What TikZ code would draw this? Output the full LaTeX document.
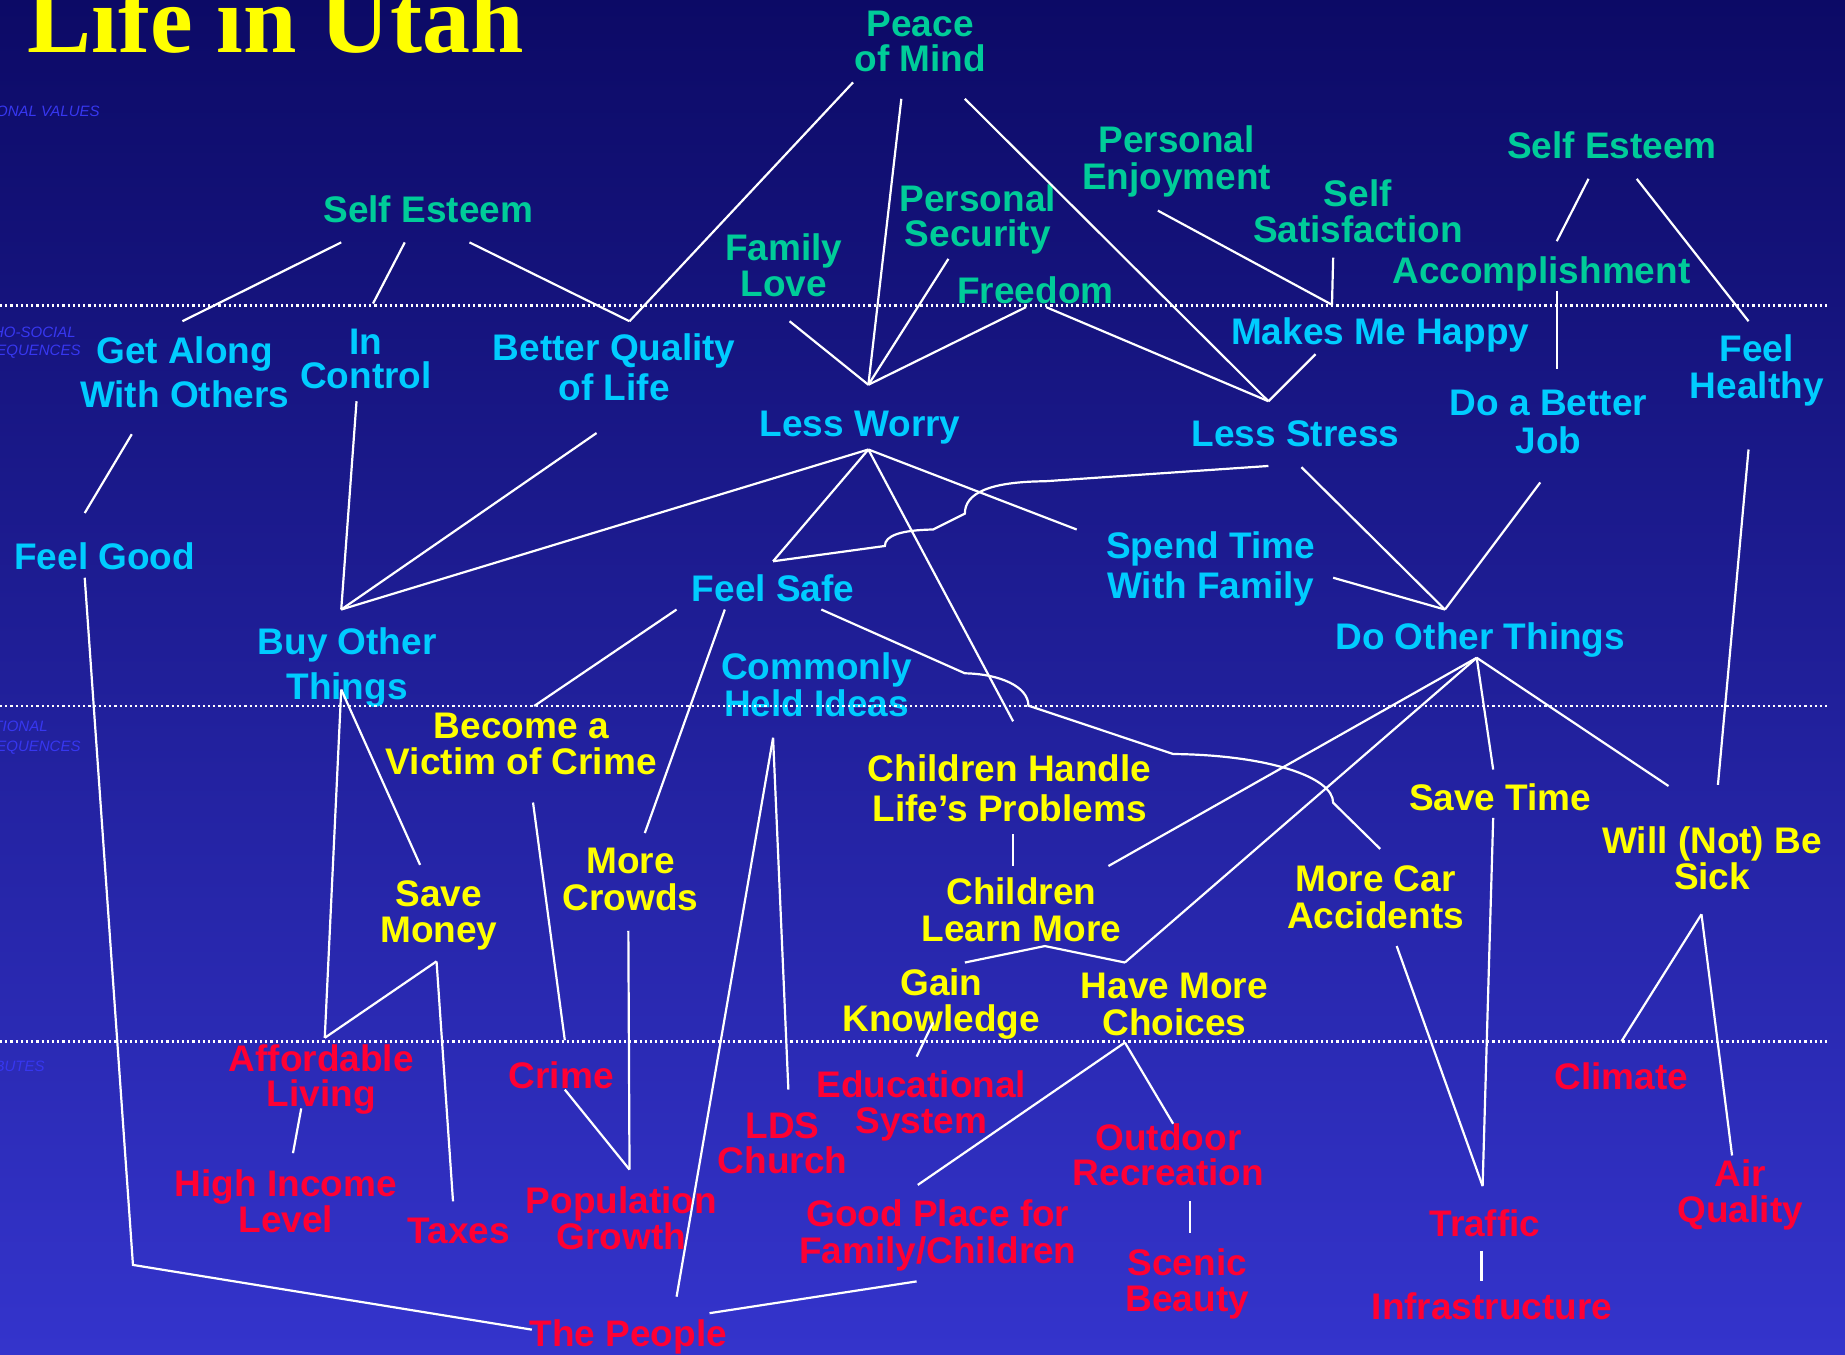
\documentclass[tikz,border=0pt]{standalone}
\usepackage{fontspec}
\setsansfont{Liberation Sans}
\newfontfamily\titlefont{Liberation Serif}
\definecolor{bgtop}{RGB}{12,10,102}
\definecolor{bgbot}{RGB}{52,52,204}
\definecolor{valgreen}{RGB}{0,204,153}
\definecolor{psycyan}{RGB}{0,204,255}
\definecolor{funyellow}{RGB}{255,255,0}
\definecolor{attred}{RGB}{255,0,51}
\definecolor{sidecol}{RGB}{55,55,240}
\tikzset{
  % multi-line labels sit on the baseline of their last line
  lbl/.style={inner sep=0pt, align=center, anchor=base,
    font=\sffamily\bfseries\fontsize{18.5}{17.6}\selectfont},
  lsp/.style={font=\sffamily\bfseries\fontsize{18.5}{#1}\selectfont},
  val/.style={lbl, text=valgreen},
  psy/.style={lbl, text=psycyan},
  fun/.style={lbl, text=funyellow},
  att/.style={lbl, text=attred},
  side/.style={inner sep=0pt, anchor=base east, text=sidecol,
    font=\sffamily\itshape\fontsize{7.5}{9}\selectfont},
  conn/.style={draw=white, line width=1.1pt},
  divider/.style={draw=white, line width=1.3pt, dash pattern=on 1.1pt off 1.5pt},
}
\begin{document}
\begin{tikzpicture}[x=0.58835pt,y=-0.58835pt]
\useasboundingbox (0,0) rectangle (1568,1151);
\clip (0,0) rectangle (1568,1151);
% background
\fill[top color=bgtop, bottom color=bgbot] (0,0) rectangle (1568,1151);

% title
\node[inner sep=0pt, anchor=base west, text=funyellow,
  font=\titlefont\bfseries\fontsize{48}{50}\selectfont] (title) at (23,45) {Life in Utah};

% level names at the left edge
\node[side] (lv1) at (85,98.6) {PERSONAL VALUES};
\node[side] (lv2a) at (64.6,286.4) {PSYCHO-SOCIAL};
\node[side] (lv2b) at (68.8,302.5) {CONSEQUENCES};
\node[side] (lv3a) at (40.8,622) {FUNCTIONAL};
\node[side] (lv3b) at (68.8,639) {CONSEQUENCES};
\node[side] (lv4) at (38.2,911) {ATTRIBUTES};

% personal values
\node[val, lsp=17.5] (peace) at (782,61.1) {Peace\\of Mind};
\node[val] (seL) at (364,188.7) {Self Esteem};
\node[val, lsp=18.2] (famlove) at (666,251.9) {Family\\Love};
\node[val] (psec) at (831,209.9) {Personal\\Security};
\node[val] (freedom) at (880,257.8) {Freedom};
\node[val, lsp=18.5] (penj) at (1000,161.4) {Personal\\Enjoyment};
\node[val, lsp=18.2] (ssat) at (1154,206.5) {Self\\Satisfaction};
\node[val] (seR) at (1370,134.5) {Self Esteem};
\node[val] (accomp) at (1310,240.7) {Accomplishment};

% psycho-social consequences
\node[psy, lsp=22.4] (getalong) at (157,346.6) {Get Along\\With Others};
\node[psy, lsp=17.1] (incontrol) at (311,330.1) {In\\Control};
\node[psy, lsp=20] (betterq) at (522,340) {Better Quality\\of Life};
\node[psy] (lessworry) at (731,371) {Less Worry};
\node[psy] (happy) at (1173,293) {Makes Me Happy};
\node[psy] (lessstress) at (1101,379.7) {Less Stress};
\node[psy, lsp=19] (betterjob) at (1316,385) {Do a Better\\Job};
\node[psy, lsp=18.2] (healthy) at (1493,338.3) {Feel\\Healthy};
\node[psy] (feelgood) at (89,484.4) {Feel Good};
\node[psy, lsp=22.5] (buyother) at (295,594.8) {Buy Other\\Things};
\node[psy] (feelsafe) at (657,511.3) {Feel Safe};
\node[psy, lsp=20] (spendtime) at (1029,509) {Spend Time\\With Family};
\node[psy, lsp=18.2] (commonly) at (694,608.8) {Commonly\\Held Ideas};
\node[psy] (doother) at (1258,552.4) {Do Other Things};

% functional consequences
\node[fun, lsp=18.4] (victim) at (443,658.6) {Become a\\Victim of Crime};
\node[fun, lsp=20] (chhandle) at (858,698.3) {Children Handle\\Life’s Problems};
\node[fun] (savetime) at (1275,688.4) {Save Time};
\node[fun, lsp=18.4] (willnot) at (1455,756.3) {Will (Not) Be\\Sick};
\node[fun, lsp=18.2] (savemoney) at (373,800.9) {Save\\Money};
\node[fun, lsp=18.5] (crowds) at (536,773.4) {More\\Crowds};
\node[fun, lsp=18.4] (chlearn) at (868,800.3) {Children\\Learn More};
\node[fun, lsp=18.2] (morecar) at (1169,788.7) {More Car\\Accidents};
\node[fun, lsp=18.4] (gainknow) at (800,876.9) {Gain\\Knowledge};
\node[fun, lsp=18.2] (choices) at (998,879.9) {Have More\\Choices};

% attributes
\node[att] (affordable) at (273,940.6) {Affordable\\Living};
\node[att] (crime) at (477,924.7) {Crime};
\node[att] (educational) at (783,962.9) {Educational\\System};
\node[att, lsp=17.5] (lds) at (665,996.9) {LDS\\Church};
\node[att] (outdoor) at (993,1007.9) {Outdoor\\Recreation};
\node[att, lsp=18] (highincome) at (243,1047.6) {High Income\\Level};
\node[att] (taxes) at (390,1056.4) {Taxes};
\node[att, lsp=18.4] (population) at (528,1062.3) {Population\\Growth};
\node[att, lsp=18.2] (goodplace) at (797,1073.4) {Good Place for\\Family/Children};
\node[att, lsp=18.2] (scenic) at (1009,1114.9) {Scenic\\Beauty};
\node[att] (traffic) at (1262,1051) {Traffic};
\node[att, lsp=18.2] (airq) at (1479,1038.9) {Air\\Quality};
\node[att] (climate) at (1378,926.3) {Climate};
\node[att] (infra) at (1268,1121) {Infrastructure};
\node[att] (people) at (534,1144.5) {The People};

% level dividers
\draw[divider] (0,259.5) coordinate (d1l) -- (1555,259.5) coordinate (d1r);
\draw[divider] (0,600) coordinate (d2l) -- (1555,600) coordinate (d2r);
\draw[divider] (0,885) coordinate (d3l) -- (1555,885) coordinate (d3r);

% connector end points
\coordinate (pm1) at (725,70);
\coordinate (pm2) at (766,84);
\coordinate (pm3) at (820,84);
\coordinate (seL1) at (290,206);
\coordinate (seL2) at (344,206);
\coordinate (seL3) at (399,206);
\coordinate (ga-t) at (155,273);
\coordinate (ic-t) at (317,258);
\coordinate (bq-t) at (535,273);
\coordinate (lw-t) at (738,327);
\coordinate (fl-b) at (671,273);
\coordinate (ps-b) at (806,220);
\coordinate (fr-l) at (872,261);
\coordinate (fr-r) at (889,261);
\coordinate (ls-t) at (1078,341);
\coordinate (pe-b) at (984,179);
\coordinate (ss-b) at (1133,219);
\coordinate (mh-t) at (1132,259);
\coordinate (mh-b) at (1118,301);
\coordinate (seR1) at (1350,152);
\coordinate (seR2) at (1391,152);
\coordinate (acc-t) at (1323,205);
\coordinate (acc-b) at (1323,247);
\coordinate (djb-t) at (1323,314);
\coordinate (fh-t) at (1486,273);
\coordinate (fh-b) at (1486,382);
\coordinate (ga-b) at (112,369);
\coordinate (fg-t) at (72,436);
\coordinate (ic-b) at (303,341);
\coordinate (bq-b) at (507,368);
\coordinate (bo-t) at (290,518);
\coordinate (bo-b) at (290,586);
\coordinate (lw-b) at (738,382);
\coordinate (fs-t) at (657,477);
\coordinate (lsb1) at (1078,396);
\coordinate (lsb2) at (1106,397);
\coordinate (st-l) at (915,450);
\coordinate (st-r) at (1133,491);
\coordinate (do-t) at (1228,518);
\coordinate (do-b) at (1255,559);
\coordinate (djb-b) at (1309,410);
\coordinate (ch-t) at (861,613);
\coordinate (ch-b) at (861,709);
\coordinate (ch-r) at (942,736);
\coordinate (cl-t) at (861,736);
\coordinate (cl-b) at (888,804);
\coordinate (gk-t) at (820,818);
\coordinate (gk-b) at (793,869);
\coordinate (hc-t) at (956,818);
\coordinate (hc-b) at (956,886);
\coordinate (svt-t) at (1269,654);
\coordinate (svt-b) at (1269,695);
\coordinate (wn-t1) at (1418,668);
\coordinate (wn-t2) at (1460,667);
\coordinate (wn-b) at (1446,777);
\coordinate (mc-t) at (1173,721.5);
\coordinate (mc-b) at (1187,804);
\coordinate (tr-t) at (1260,1008);
\coordinate (tr-b) at (1259,1063);
\coordinate (inf-t) at (1259,1089);
\coordinate (cli-t) at (1378,885);
\coordinate (aq-t) at (1472,982);
\coordinate (fs-b1) at (575,518);
\coordinate (fs-b2) at (616,518);
\coordinate (fs-b3) at (698,518);
\coordinate (bv-t) at (454,600);
\coordinate (bv-b) at (453,682);
\coordinate (mcr-t) at (548,708);
\coordinate (mcr-b) at (534,791);
\coordinate (chi-b) at (657,627);
\coordinate (lds-t) at (670,926);
\coordinate (tp-t) at (575,1102);
\coordinate (tp-l) at (452,1130);
\coordinate (tp-r) at (603,1116);
\coordinate (fg-b) at (72,491);
\coordinate (fg-c) at (113,1075);
\coordinate (sm-t) at (357,735);
\coordinate (sm-b) at (371,817);
\coordinate (af-t) at (276,882);
\coordinate (af-b) at (256,942);
\coordinate (hi-t) at (249,980);
\coordinate (tx-t) at (385,1021);
\coordinate (cr-t) at (480,884);
\coordinate (cr-b) at (480,926);
\coordinate (pg-t) at (535,994);
\coordinate (gp-t) at (780,1007);
\coordinate (gp-b) at (779,1089);
\coordinate (ed-t) at (779,898);
\coordinate (od-t) at (997,955);
\coordinate (od-b) at (1011,1021);
\coordinate (sb-t) at (1011,1048);

% connectors
\draw[conn] (pm1) -- (bq-t);
\draw[conn] (pm2) -- (lw-t);
\draw[conn] (pm3) -- (ls-t);
\draw[conn] (seL1) -- (ga-t);
\draw[conn] (seL2) -- (ic-t);
\draw[conn] (seL3) -- (bq-t);
\draw[conn] (fl-b) -- (lw-t);
\draw[conn] (ps-b) -- (lw-t);
\draw[conn] (fr-l) -- (lw-t);
\draw[conn] (fr-r) -- (ls-t);
\draw[conn] (pe-b) -- (mh-t);
\draw[conn] (ss-b) -- (mh-t);
\draw[conn] (mh-b) -- (ls-t);
\draw[conn] (seR1) -- (acc-t);
\draw[conn] (seR2) -- (fh-t);
\draw[conn] (acc-b) -- (djb-t);
\draw[conn] (ga-b) -- (fg-t);
\draw[conn] (ic-b) -- (bo-t);
\draw[conn] (bq-b) -- (bo-t);
\draw[conn] (lw-b) -- (bo-t);
\draw[conn] (lw-b) -- (fs-t);
\draw[conn] (lw-b) -- (st-l);
\draw[conn] (lw-b) -- (ch-t);
% Less Stress to Feel Safe, hopping over two crossings
\draw[conn] (lsb1) -- (888,409) .. controls (841,409.4) and (820,419) .. (820,436.5)
  -- (793,450) .. controls (766,450.5) and (752,455) .. (752,464) -- (fs-t);
\draw[conn] (lsb2) -- (do-t);
\draw[conn] (st-r) -- (do-t);
\draw[conn] (djb-b) -- (do-t);
\draw[conn] (do-b) -- (ch-r);
\draw[conn] (do-b) -- (hc-t);
\draw[conn] (do-b) -- (svt-t);
\draw[conn] (do-b) -- (wn-t1);
\draw[conn] (fh-b) -- (wn-t2);
\draw[conn] (fs-b1) -- (bv-t);
\draw[conn] (fs-b2) -- (mcr-t);
% Feel Safe to More Car Accidents, hopping over three crossings
\draw[conn] (fs-b3) -- (820,572.2) .. controls (850,572.8) and (874,583.6) .. (874,599.7)
  -- (997,640.8) .. controls (1076.5,641.6) and (1133,660) .. (1133,682.2) -- (mc-t);
\draw[conn] (ch-b) -- (cl-t);
\draw[conn] (gk-t) -- (cl-b) -- (hc-t);
\draw[conn] (gk-b) -- (ed-t);
\draw[conn] (hc-b) -- (gp-t);
\draw[conn] (hc-b) -- (od-t);
\draw[conn] (od-b) -- (sb-t);
\draw[conn] (bo-b) -- (af-t);
\draw[conn] (bo-b) -- (sm-t);
\draw[conn] (sm-b) -- (af-t);
\draw[conn] (sm-b) -- (tx-t);
\draw[conn] (af-b) -- (hi-t);
\draw[conn] (bv-b) -- (cr-t);
\draw[conn] (cr-b) -- (pg-t);
\draw[conn] (mcr-b) -- (pg-t);
\draw[conn] (chi-b) -- (lds-t);
\draw[conn] (chi-b) -- (tp-t);
\draw[conn] (fg-b) -- (fg-c) -- (tp-l);
\draw[conn] (gp-b) -- (tp-r);
\draw[conn] (svt-b) -- (tr-t);
\draw[conn] (mc-b) -- (tr-t);
\draw[conn] (tr-b) -- (inf-t);
\draw[conn] (wn-b) -- (cli-t);
\draw[conn] (wn-b) -- (aq-t);
\end{tikzpicture}
\end{document}
